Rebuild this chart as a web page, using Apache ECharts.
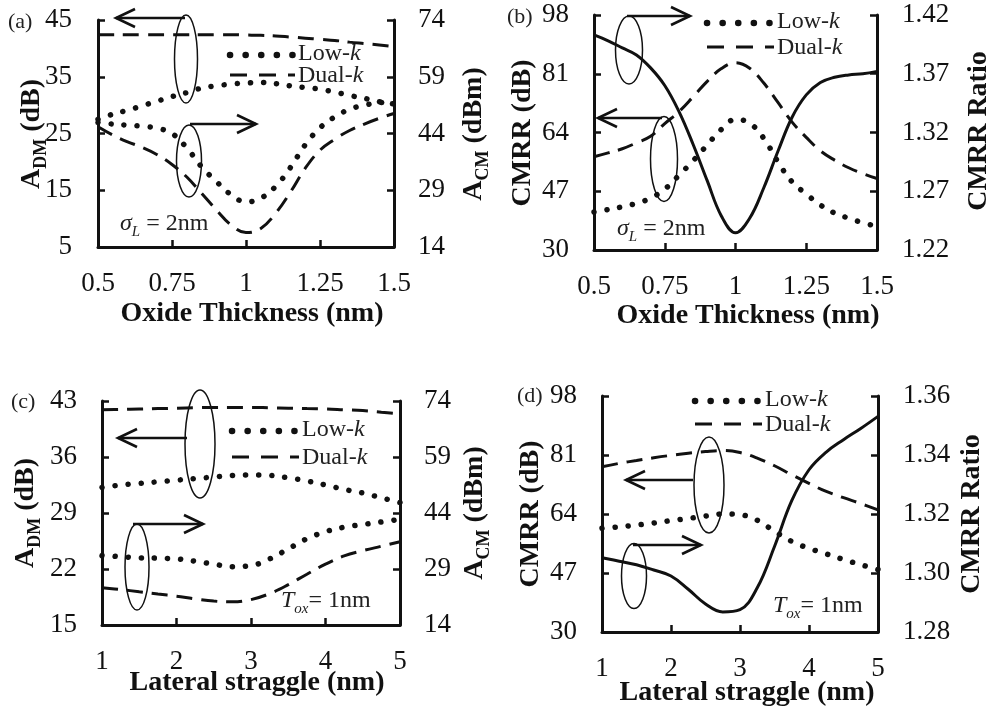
<!DOCTYPE html>
<html><head><meta charset="utf-8">
<script src="https://cdn.jsdelivr.net/npm/echarts@6/dist/echarts.min.js"></script>
<style>html,body{margin:0;padding:0;background:#fff}#c{width:988px;height:714px}</style>
</head><body><div id="c"></div>
<script>
// ---------- data ----------
const oxideThickness = [0.5,0.55,0.6,0.65,0.7,0.75,0.8,0.85,0.9,0.95,1.0,1.05,1.1,1.15,1.2,1.25,1.3,1.35,1.4,1.45,1.5];
// (a) A_DM (left axis) and A_CM (right axis)
const aDualAdm = [42.4,42.4,42.4,42.4,42.4,42.4,42.4,42.4,42.4,42.4,42.35,42.3,42.2,42.0,41.8,41.6,41.4,41.1,40.85,40.6,40.3];
const aLowAdm  = [27.5,28.4,29.1,29.9,30.7,31.5,32.2,33.0,33.4,33.7,33.9,34.0,33.8,33.4,33.1,32.8,32.3,31.7,31.2,30.6,30.2];
const aLowAcm  = [46.9,46.5,46.2,45.9,45.4,44.0,40.2,35.2,31.3,27.8,25.9,26.9,30.0,35.0,41.0,45.5,48.4,50.4,51.5,52.1,52.4];
const aDualAcm = [45.8,43.6,41.8,40.3,38.4,35.8,32.5,28.2,23.8,19.8,17.8,18.9,22.9,28.5,34.8,39.6,42.5,44.8,46.5,48.0,49.3];
// (b) CMRR (left axis) and CMRR ratio (right axis)
const bDualCmrr = [57.0,58.1,59.3,61.0,62.9,66.6,70.0,74.3,78.8,82.5,84.2,82.6,78.3,72.7,67.0,62.6,58.7,56.0,53.8,52.1,50.7];
const bLowCmrr  = [41.0,41.7,42.5,43.5,45.0,47.6,51.6,55.8,60.4,64.9,67.8,66.7,62.3,55.5,49.7,46.2,43.0,40.7,39.2,37.9,36.8];
const bRatio    = [1.403,1.398,1.392,1.386,1.375,1.360,1.338,1.310,1.279,1.249,1.2347,1.247,1.273,1.304,1.333,1.352,1.3625,1.367,1.369,1.370,1.372];

const lateralStraggle = [1,1.25,1.5,1.75,2,2.25,2.5,2.75,3,3.25,3.5,3.75,4,4.25,4.5,4.75,5];
// (c)
const cDualAdm = [41.9,41.95,42.0,42.05,42.1,42.15,42.2,42.2,42.2,42.15,42.1,42.05,42.0,41.9,41.8,41.6,41.4];
const cLowAdm  = [32.2,32.5,32.7,32.9,33.1,33.3,33.5,33.7,33.75,33.7,33.4,33.0,32.5,31.95,31.5,30.9,30.3];
const cLowAcm  = [32.6,32.3,32.0,31.9,31.7,31.1,30.3,29.6,29.9,31.7,34.4,37.1,39.0,40.2,40.9,41.6,42.3];
const cDualAcm = [24.0,23.5,22.9,22.3,21.7,21.0,20.4,20.2,20.8,22.4,24.8,27.6,30.3,32.5,33.9,35.1,36.3];
// (d)
const dDualCmrr = [77.6,78.6,79.4,80.2,80.9,81.5,82.0,82.3,81.7,80.1,77.9,75.3,72.8,70.5,68.7,67.0,65.2];
const dLowCmrr  = [59.9,60.3,60.8,61.4,62.1,62.7,63.4,64.0,63.8,62.2,59.0,56.1,54.1,52.5,50.9,49.4,48.0];
const dRatio    = [1.3052,1.3040,1.3028,1.3010,1.2990,1.2945,1.2895,1.2868,1.2876,1.2950,1.3090,1.3245,1.3350,1.3410,1.3452,1.3490,1.3531];

// tick values
const xTicksOxide = [0.5,0.75,1,1.25,1.5];
const xTicksStraggle = [1,2,3,4,5];
const aLeftTicks = [5,15,25,35,45],  aRightTicks = [14,29,44,59,74];
const bLeftTicks = [30,47,64,81,98], bRightTicks = [1.22,1.27,1.32,1.37,1.42];
const cLeftTicks = [15,22,29,36,43], cRightTicks = [14,29,44,59,74];
const dLeftTicks = [30,47,64,81,98], dRightTicks = [1.28,1.30,1.32,1.34,1.36];

// ---------- style ----------
const FONT = '"Liberation Serif","Times New Roman",serif';
const INK = '#111';
const AXW = 3;
const TICKFS = 27;

const grids = [
  {left:98,  top:20,  width:296, height:227},
  {left:594, top:15,  width:283, height:235},
  {left:102, top:401, width:298, height:224},
  {left:602, top:396, width:276, height:236}
];

function xAx(g, ticks){
  return {type:'value', gridIndex:g, min:ticks[0], max:ticks[ticks.length-1], interval:ticks[1]-ticks[0],
    axisLine:{show:true, onZero:false, lineStyle:{color:INK, width:AXW}},
    axisTick:{show:true, inside:true, length:7, lineStyle:{color:INK, width:2.5}},
    axisLabel:{fontFamily:FONT, fontSize:TICKFS, color:INK, margin:23, formatter:v=>String(+v.toFixed(2))},
    splitLine:{show:false}};
}
function yAx(g, ticks, pos, margin, dec){
  return {type:'value', gridIndex:g, position:pos, min:ticks[0], max:ticks[ticks.length-1], interval:+(ticks[1]-ticks[0]).toFixed(4),
    axisLine:{show:true, onZero:false, lineStyle:{color:INK, width:AXW}},
    axisTick:{show:true, inside:true, length:7, lineStyle:{color:INK, width:2.5}},
    axisLabel:{fontFamily:FONT, fontSize:TICKFS, color:INK, margin:margin, formatter:v=>v.toFixed(dec)},
    splitLine:{show:false}};
}
const DOT = {type:[0.1,13], width:5.5, cap:'round', color:INK};
const DASH = {type:[16,9], width:3, color:INK};
const SOLID = {type:'solid', width:3, color:INK};
function ser(xs, ys, xi, yi, ls){
  return {type:'line', xAxisIndex:xi, yAxisIndex:yi, data:xs.map((x,i)=>[x,ys[i]]), smooth:0.4,
    showSymbol:false, symbol:'none', lineStyle:ls, silent:true, animation:false};
}

// ---------- annotations ----------
const G = [];
function txt(x, y, text, rich, opts){
  opts = opts||{};
  G.push({type:'text', x:x, y:y, rotation:opts.rot||0, silent:true,
    style:{text:text, rich:rich, fill:INK, font:'24px '+FONT, align:opts.align||'left', verticalAlign:'middle'}});
}
function arrow(x1, y, x2){
  const d = x2 > x1 ? -1 : 1;
  G.push({type:'polyline', silent:true, shape:{points:[[x1,y],[x2,y]]}, style:{stroke:INK, lineWidth:2.6, fill:null}});
  G.push({type:'polyline', silent:true, shape:{points:[[x2+d*19,y-9],[x2,y],[x2+d*19,y+9]]}, style:{stroke:INK, lineWidth:2.6, fill:null}});
}
function ellipse(cx, cy, rx, ry){
  G.push({type:'ellipse', silent:true, shape:{cx:cx, cy:cy, rx:rx, ry:ry}, style:{stroke:INK, lineWidth:1.5, fill:null}});
}
const legRich = {n:{fontFamily:FONT, fontSize:24, fill:'#222'}, i:{fontFamily:FONT, fontSize:24, fontStyle:'italic', fill:'#222'}};
function legend(x1, x2, yDot, yDash){
  G.push({type:'line', silent:true, shape:{x1:x1, y1:yDot, x2:x2, y2:yDot}, style:{stroke:INK, lineWidth:6.5, lineDash:[0.1,15.5], lineCap:'round'}});
  G.push({type:'line', silent:true, shape:{x1:x1, y1:yDash, x2:x2, y2:yDash}, style:{stroke:INK, lineWidth:3, lineDash:[17,12]}});
  txt(x2+3, yDot-1, '{n|Low-}{i|k}', legRich);
  txt(x2+3, yDash+1, '{n|Dual-}{i|k}', legRich);
}
const titleRich = {b:{fontFamily:FONT, fontSize:28, fontWeight:'bold', fill:INK, lineHeight:37, verticalAlign:'middle'},
                   s:{fontFamily:FONT, fontSize:18, fontWeight:'bold', fill:INK, lineHeight:18, verticalAlign:'bottom'}};
const noteRich = {i:{fontFamily:FONT, fontSize:24, fontStyle:'italic', fill:'#222', lineHeight:32, verticalAlign:'middle'},
                  s:{fontFamily:FONT, fontSize:15, fontStyle:'italic', fill:'#222', lineHeight:15, verticalAlign:'bottom'},
                  n:{fontFamily:FONT, fontSize:24, fill:'#222', lineHeight:32, verticalAlign:'middle'}};
const labRich = {n:{fontFamily:FONT, fontSize:22, fill:'#222'}};

// panel labels
txt(8, 22, '{n|(a)}', labRich);
txt(507, 17, '{n|(b)}', labRich);
txt(11, 402, '{n|(c)}', labRich);
txt(517, 396, '{n|(d)}', labRich);

// axis titles
txt(252, 314, '{b|Oxide Thickness (nm)}', titleRich, {align:'center'});
txt(748, 316, '{b|Oxide Thickness (nm)}', titleRich, {align:'center'});
txt(257, 683, '{b|Lateral straggle (nm)}', titleRich, {align:'center'});
txt(747, 693, '{b|Lateral straggle (nm)}', titleRich, {align:'center'});

const PI2 = Math.PI/2;
txt(32, 134, '{b|A}{s|DM}{b| (dB)}', titleRich, {align:'center', rot:PI2});
txt(474, 134, '{b|A}{s|CM}{b| (dBm)}', titleRich, {align:'center', rot:PI2});
txt(523, 133, '{b|CMRR (dB)}', titleRich, {align:'center', rot:PI2});
txt(979, 131, '{b|CMRR Ratio}', titleRich, {align:'center', rot:PI2});
txt(26, 513, '{b|A}{s|DM}{b| (dB)}', titleRich, {align:'center', rot:PI2});
txt(475, 513, '{b|A}{s|CM}{b| (dBm)}', titleRich, {align:'center', rot:PI2});
txt(531, 514, '{b|CMRR (dB)}', titleRich, {align:'center', rot:PI2});
txt(972, 514, '{b|CMRR Ratio}', titleRich, {align:'center', rot:PI2});

// notes
txt(120, 224, '{i|σ}{s|L}{n| = 2nm}', noteRich);
txt(617, 229, '{i|σ}{s|L}{n| = 2nm}', noteRich);
txt(281, 601, '{i|T}{s|ox}{n|= 1nm}', noteRich);
txt(773, 606, '{i|T}{s|ox}{n|= 1nm}', noteRich);

// legends
legend(230, 295, 55, 75);
legend(707, 774, 23, 47);
legend(232, 299, 431, 457);
legend(695, 762, 401, 424);

// arrows + ellipses
ellipse(186, 59, 11.5, 44); arrow(185, 18, 116);
ellipse(189, 161, 12.5, 36); arrow(190, 124, 256);
ellipse(629, 50, 13.5, 34); arrow(627, 16, 690);
ellipse(664, 159, 13.5, 42.5); arrow(662, 118, 598);
ellipse(200, 444, 15, 54); arrow(187, 438, 118);
ellipse(137, 567, 12, 43); arrow(133, 524, 203);
ellipse(709, 485, 15, 48); arrow(693, 480, 626);
ellipse(634, 576, 12.5, 32.5); arrow(633, 545, 701);

const option = {
  animation:false,
  backgroundColor:'#fff',
  grid:grids,
  xAxis:[xAx(0,xTicksOxide), xAx(1,xTicksOxide), xAx(2,xTicksStraggle), xAx(3,xTicksStraggle)],
  yAxis:[
    yAx(0,aLeftTicks,'left',26,0), yAx(0,aRightTicks,'right',24,0),
    yAx(1,bLeftTicks,'left',25,0), yAx(1,bRightTicks,'right',25,2),
    yAx(2,cLeftTicks,'left',25,0), yAx(2,cRightTicks,'right',24,0),
    yAx(3,dLeftTicks,'left',25,0), yAx(3,dRightTicks,'right',25,2)
  ],
  series:[
    ser(oxideThickness,aDualAdm,0,0,DASH), ser(oxideThickness,aLowAdm,0,0,DOT),
    ser(oxideThickness,aLowAcm,0,1,DOT),   ser(oxideThickness,aDualAcm,0,1,DASH),
    ser(oxideThickness,bDualCmrr,1,2,DASH), ser(oxideThickness,bLowCmrr,1,2,DOT),
    ser(oxideThickness,bRatio,1,3,SOLID),
    ser(lateralStraggle,cDualAdm,2,4,DASH), ser(lateralStraggle,cLowAdm,2,4,DOT),
    ser(lateralStraggle,cLowAcm,2,5,DOT),   ser(lateralStraggle,cDualAcm,2,5,DASH),
    ser(lateralStraggle,dDualCmrr,3,6,DASH), ser(lateralStraggle,dLowCmrr,3,6,DOT),
    ser(lateralStraggle,dRatio,3,7,SOLID)
  ],
  graphic:G
};
const chart = echarts.init(document.getElementById('c'), null, {renderer:'canvas'});
chart.setOption(option);
</script>
</body></html>
